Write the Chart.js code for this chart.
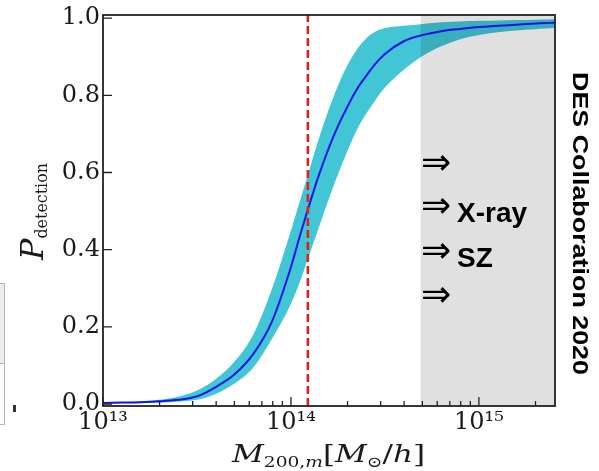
<!DOCTYPE html>
<html><head><meta charset="utf-8">
<script src="https://cdn.jsdelivr.net/npm/chart.js@4.4.1/dist/chart.umd.min.js"></script>
<style>html,body{margin:0;padding:0;background:#fff;} #wrap{width:599px;height:471px;position:relative;background:#fff;}</style>
</head><body><div id="wrap"><canvas id="c" width="599" height="471"></canvas></div>
<script>
// ---- data ----
const logMass = [13.0, 13.1, 13.2, 13.3, 13.4, 13.5, 13.6, 13.7, 13.8, 13.9,
                 14.0, 14.05, 14.1, 14.15, 14.2, 14.25, 14.3, 14.35, 14.4, 14.45,
                 14.5, 14.6, 14.7, 14.8, 14.9, 15.0, 15.1, 15.2, 15.3, 15.4, 15.41];
const pCenter = [0.003, 0.004, 0.005, 0.007, 0.011, 0.02, 0.044, 0.077, 0.13, 0.215,
                 0.355, 0.44, 0.52, 0.595, 0.662, 0.72, 0.77, 0.815, 0.85, 0.882,
                 0.907, 0.94, 0.956, 0.966, 0.972, 0.977, 0.98, 0.983, 0.986, 0.988, 0.988];
const pUpper = [0.004, 0.005, 0.007, 0.011, 0.019, 0.035, 0.065, 0.11, 0.18, 0.30,
                0.45, 0.53, 0.61, 0.69, 0.762, 0.825, 0.877, 0.918, 0.947, 0.965,
                0.974, 0.98, 0.985, 0.989, 0.991, 0.993, 0.994, 0.995, 0.996, 0.997, 0.997];
const pLower = [0.002, 0.002, 0.003, 0.004, 0.006, 0.011, 0.026, 0.053, 0.095, 0.17,
                0.26, 0.32, 0.39, 0.46, 0.53, 0.595, 0.655, 0.71, 0.752, 0.788,
                0.82, 0.866, 0.902, 0.927, 0.945, 0.956, 0.963, 0.968, 0.971, 0.974, 0.974];
const xTickExponents = [13, 14, 15];
const yTickValues = [0.0, 0.2, 0.4, 0.6, 0.8, 1.0];
const refMass = 1.23e14;
const greyStartMass = 4.9e14;
const xRange = [1e13, 2.54e15];
const yRange = [-0.005, 1.008];
const sideNotes = ['', 'X-ray', 'SZ', ''];
const creditText = 'DES Collaboration 2020';

const SUP = {'0':'⁰','1':'¹','2':'²','3':'³','4':'⁴','5':'⁵','6':'⁶','7':'⁷','8':'⁸','9':'⁹'};
const sup = n => String(n).split('').map(c => SUP[c]).join('');
const toPts = arr => arr.map((p, i) => ({x: Math.pow(10, logMass[i]), y: p}));

function drawRich(ctx, parts, x0, baseline, targetW) {
  let total = 0;
  parts.forEach(p => { ctx.font = p.font; p.w = ctx.measureText(p.t).width; total += p.w; });
  const s = targetW / total;
  ctx.save();
  ctx.translate(x0, baseline); ctx.scale(s, 1);
  ctx.textAlign = 'left'; ctx.textBaseline = 'alphabetic';
  let x = 0;
  parts.forEach(p => { ctx.font = p.font; ctx.fillText(p.t, x, p.dy || 0); x += p.w; });
  ctx.restore();
}

const greyPlugin = {
  id: 'greyRegion',
  beforeDatasetDraw(chart, args) {
    if (args.index !== 1) return;
    const {ctx, chartArea: a, scales: {x}} = chart;
    const x0 = x.getPixelForValue(greyStartMass);
    ctx.save();
    ctx.fillStyle = 'rgba(0,0,0,0.12)';
    ctx.fillRect(x0, a.top, a.right - x0, a.bottom - a.top);
    ctx.restore();
  }
};

const framePlugin = {
  id: 'frame',
  afterDatasetsDraw(chart) {
    const {ctx, chartArea: a, scales: {x, y}} = chart;
    ctx.save();
    ctx.strokeStyle = '#222';
    ctx.lineWidth = 1.3;
    ctx.beginPath();
    yTickValues.forEach(v => { const py = y.getPixelForValue(v); ctx.moveTo(a.left, py); ctx.lineTo(a.left + 9, py); });
    for (let e = xTickExponents[0]; e <= xTickExponents[xTickExponents.length - 1]; e++) {
      for (let k = 1; k <= 9; k++) {
        const v = k * Math.pow(10, e);
        if (v < xRange[0] || v > xRange[1]) continue;
        const px = x.getPixelForValue(v);
        ctx.moveTo(px, a.bottom); ctx.lineTo(px, a.bottom - (k === 1 ? 9 : 5));
      }
    }
    ctx.stroke();
    ctx.lineWidth = 1.8;
    ctx.strokeRect(a.left, a.top, a.right - a.left, a.bottom - a.top);
    ctx.restore();
  },
  afterDraw(chart) {
    const {ctx} = chart;
    ctx.save();
    ctx.fillStyle = '#1a1a1a';
    // x-axis title
    const big = '25px "DejaVu Serif"', bigI = 'italic 25px "DejaVu Serif"', small = '15px "DejaVu Serif"';
    drawRich(ctx, [
      {t: 'M', font: bigI}, {t: '200,', font: small, dy: 5}, {t: 'm', font: 'italic 15px "DejaVu Serif"', dy: 5},
      {t: '[', font: big}, {t: 'M', font: bigI}, {t: '⊙', font: small, dy: 5},
      {t: '/', font: big}, {t: 'h', font: bigI}, {t: ']', font: big}
    ], 232, 462, 193);
    // y-axis title
    ctx.save();
    ctx.translate(43, 260); ctx.rotate(-Math.PI / 2);
    drawRich(ctx, [
      {t: 'P', font: 'italic 32px "DejaVu Serif"'}, {t: 'detection', font: '16px "DejaVu Serif"', dy: 4}
    ], 0, 0, 97);
    ctx.restore();
    // side notes
    ctx.fillStyle = '#000';
    const arrowY = [164.5, 207.5, 252.5, 297];
    sideNotes.forEach((t, i) => {
      ctx.font = '36px "DejaVu Sans"';
      ctx.textAlign = 'left'; ctx.textBaseline = 'middle';
      ctx.fillText('⇒', 421, arrowY[i]);
      if (t) {
        ctx.font = 'bold 28px "Liberation Sans"';
        ctx.textBaseline = 'alphabetic';
        ctx.fillText(t, 457, arrowY[i] + 14.5);
      }
    });
    // credit
    ctx.save();
    ctx.translate(573, 223.5); ctx.rotate(Math.PI / 2);
    ctx.font = 'bold 22px "Liberation Sans"';
    const w = ctx.measureText(creditText).width;
    ctx.scale(303 / w, 1);
    ctx.textAlign = 'center'; ctx.textBaseline = 'alphabetic';
    ctx.fillText(creditText, 0, 0);
    ctx.restore();
    // left-edge remnants of a neighbouring panel
    ctx.fillStyle = '#ececec';
    ctx.fillRect(0, 283, 5, 80);
    ctx.strokeStyle = '#b4b4b4'; ctx.lineWidth = 1;
    ctx.beginPath();
    ctx.moveTo(0, 283.5); ctx.lineTo(5, 283.5);
    ctx.moveTo(0, 363.5); ctx.lineTo(5, 363.5);
    ctx.moveTo(0, 424.5); ctx.lineTo(5, 424.5);
    ctx.moveTo(4.5, 283); ctx.lineTo(4.5, 425);
    ctx.stroke();
    ctx.fillStyle = '#333';
    ctx.fillRect(13, 405, 3, 7);
    ctx.restore();
  }
};

new Chart(document.getElementById('c'), {
  type: 'line',
  data: {
    datasets: [
      {label: 'ref', data: [{x: refMass, y: yRange[0]}, {x: refMass, y: yRange[1]}],
       borderColor: '#e3211c', borderWidth: 2.6, borderDash: [8, 4], pointRadius: 0, fill: false, order: 0},
      {label: 'P', data: toPts(pCenter), borderColor: '#1414e6', borderWidth: 2,
       pointRadius: 0, fill: false, cubicInterpolationMode: 'monotone', order: 1},
      {label: 'upper', data: toPts(pUpper), borderWidth: 0, borderColor: 'rgba(0,0,0,0)',
       backgroundColor: '#42c6d6', pointRadius: 0, fill: false, cubicInterpolationMode: 'monotone', order: 2},
      {label: 'lower', data: toPts(pLower), borderWidth: 0, borderColor: 'rgba(0,0,0,0)',
       backgroundColor: '#42c6d6', pointRadius: 0, fill: '-1', cubicInterpolationMode: 'monotone', order: 3}
    ]
  },
  options: {
    responsive: false, animation: false,
    layout: {padding: {left: 0, right: 44, top: 14, bottom: 0}},
    plugins: {legend: {display: false}, tooltip: {enabled: false}},
    scales: {
      x: {
        type: 'logarithmic', min: xRange[0], max: xRange[1],
        afterBuildTicks: s => { s.ticks = xTickExponents.map(e => ({value: Math.pow(10, e)})); },
        afterFit: s => { s.height = 65; },
        grid: {display: false, drawTicks: false}, border: {display: false},
        ticks: {autoSkip: false, maxRotation: 0, padding: 5, color: '#1a1a1a',
                font: {family: 'DejaVu Serif', size: 24, lineHeight: 1.0},
                callback: v => '10' + sup(Math.round(Math.log10(v)))}
      },
      y: {
        type: 'linear', min: yRange[0], max: yRange[1],
        afterBuildTicks: s => { s.ticks = yTickValues.map(v => ({value: v})); },
        afterFit: s => { s.width = 103; },
        grid: {display: false, drawTicks: false}, border: {display: false},
        ticks: {padding: 3, color: '#1a1a1a', font: {family: 'DejaVu Serif', size: 24, lineHeight: 1.0},
                callback: v => Number(v).toFixed(1)}
      }
    }
  },
  plugins: [greyPlugin, framePlugin]
});
</script>
</body></html>
